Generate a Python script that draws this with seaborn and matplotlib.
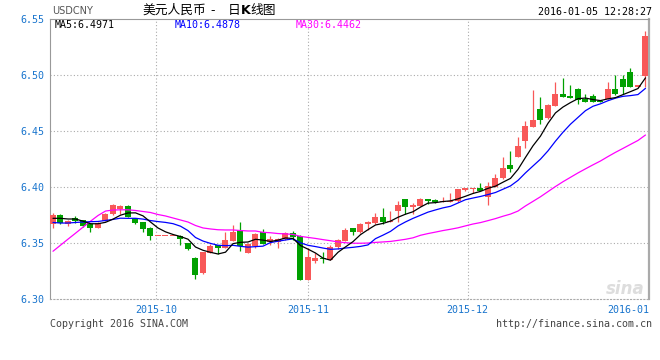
import numpy as np
import pandas as pd
import matplotlib
matplotlib.use("Agg")
import matplotlib.pyplot as plt
import seaborn as sns

# ---- data ----
opens = [6.3670, 6.3753, 6.3668, 6.3723, 6.3708, 6.3670, 6.3639, 6.3702, 6.3759, 6.3804,
         6.3833, 6.3723, 6.3688, 6.3639, 6.3566, 6.3566, 6.3566, 6.3565, 6.3500, 6.3371,
         6.3235, 6.3411, 6.3485, 6.3461, 6.3521, 6.3619, 6.3416, 6.3479, 6.3604, 6.3509,
         6.3514, 6.3538, 6.3595, 6.3565, 6.3175, 6.3345, 6.3371, 6.3351, 6.3467, 6.3523,
         6.3634, 6.3601, 6.3670, 6.3679, 6.3735, 6.3690, 6.3791, 6.3896, 6.3821, 6.3836,
         6.3896, 6.3887, 6.3866, 6.3866, 6.3875, 6.3976, 6.3988, 6.3996, 6.3916, 6.4000,
         6.4083, 6.4199, 6.4273, 6.4416, 6.4541, 6.4699, 6.4616, 6.4729, 6.4833, 6.4818,
         6.4878, 6.4788, 6.4815, 6.4771, 6.4788, 6.4878, 6.4967, 6.5027, 6.4900, 6.4996]
highs = [6.3768, 6.3762, 6.3708, 6.3744, 6.3712, 6.3679, 6.3688, 6.3768, 6.3851, 6.3842,
         6.3842, 6.3729, 6.3693, 6.3646, 6.3566, 6.3566, 6.3566, 6.3570, 6.3503, 6.3378,
         6.3425, 6.3491, 6.3489, 6.3604, 6.3663, 6.3693, 6.3503, 6.3589, 6.3625, 6.3568,
         6.3550, 6.3604, 6.3610, 6.3574, 6.3455, 6.3411, 6.3420, 6.3485, 6.3538, 6.3634,
         6.3637, 6.3679, 6.3702, 6.3773, 6.3815, 6.3791, 6.3880, 6.3900, 6.3863, 6.3907,
         6.3900, 6.3898, 6.3911, 6.3946, 6.3985, 6.3996, 6.3994, 6.4041, 6.4045, 6.4119,
         6.4268, 6.4327, 6.4446, 6.4592, 6.4869, 6.4809, 6.4741, 6.4938, 6.4979, 6.4913,
         6.4889, 6.4833, 6.4830, 6.4779, 6.4938, 6.5003, 6.5003, 6.5063, 6.4902, 6.5398]
lows = [6.3639, 6.3670, 6.3654, 6.3684, 6.3650, 6.3604, 6.3639, 6.3699, 6.3753, 6.3762,
        6.3732, 6.3672, 6.3604, 6.3532, 6.3566, 6.3566, 6.3566, 6.3485, 6.3440, 6.3181,
        6.3226, 6.3411, 6.3402, 6.3461, 6.3521, 6.3431, 6.3413, 6.3461, 6.3491, 6.3485,
        6.3461, 6.3529, 6.3529, 6.3175, 6.3175, 6.3327, 6.3321, 6.3351, 6.3446, 6.3521,
        6.3577, 6.3595, 6.3619, 6.3670, 6.3672, 6.3690, 6.3693, 6.3762, 6.3762, 6.3836,
        6.3851, 6.3857, 6.3866, 6.3866, 6.3866, 6.3971, 6.3952, 6.3967, 6.3842, 6.4000,
        6.4077, 6.4139, 6.4268, 6.4354, 6.4541, 6.4565, 6.4607, 6.4729, 6.4809, 6.4800,
        6.4744, 6.4764, 6.4759, 6.4764, 6.4788, 6.4824, 6.4833, 6.4898, 6.4900, 6.4898]
closes = [6.3753, 6.3679, 6.3699, 6.3699, 6.3657, 6.3639, 6.3679, 6.3762, 6.3842, 6.3833,
          6.3738, 6.3684, 6.3628, 6.3568, 6.3566, 6.3566, 6.3566, 6.3536, 6.3449, 6.3217,
          6.3420, 6.3476, 6.3461, 6.3529, 6.3598, 6.3479, 6.3491, 6.3583, 6.3491, 6.3538,
          6.3538, 6.3589, 6.3559, 6.3175, 6.3378, 6.3366, 6.3360, 6.3467, 6.3527, 6.3619,
          6.3601, 6.3672, 6.3690, 6.3735, 6.3690, 6.3702, 6.3845, 6.3827, 6.3845, 6.3896,
          6.3880, 6.3869, 6.3875, 6.3875, 6.3985, 6.3996, 6.3994, 6.3967, 6.4012, 6.4083,
          6.4172, 6.4163, 6.4369, 6.4547, 6.4601, 6.4605, 6.4735, 6.4833, 6.4809, 6.4800,
          6.4779, 6.4764, 6.4764, 6.4764, 6.4878, 6.4833, 6.4898, 6.4898, 6.4902, 6.5354]

# moving averages at the start of the window (they depend on earlier, unseen days)
ma5_head = [6.3723, 6.3723, 6.3717, 6.3717]
ma10_head = [6.3686, 6.3681, 6.3681, 6.3686, 6.3690, 6.3693, 6.3695, 6.3704, 6.3713]
ma30_head = [6.3429, 6.3483, 6.3537, 6.3590, 6.3644, 6.3697, 6.3748, 6.3788, 6.3797, 6.3799,
             6.3799, 6.3793, 6.3784, 6.3775, 6.3757, 6.3744, 6.3726, 6.3708, 6.3690, 6.3659,
             6.3637, 6.3628, 6.3621, 6.3619, 6.3619, 6.3614, 6.3610, 6.3610, 6.3598]

month_labels = ["2015-10", "2015-11", "2015-12", "2016-01"]
month_pos = [13.8, 34.0, 55.3, 79.47]
y_ticks = [6.30, 6.35, 6.40, 6.45, 6.50, 6.55]
ma_legend = ["MA5:6.4971", "MA10:6.4878", "MA30:6.4462"]

# ---- styling ----
sns.set_style("white")
plt.rcParams["font.family"] = ["DejaVu Sans Mono", "DejaVu Sans"]

RED = "#f85858"
GREEN = "#00a000"
BLUE_TXT = "#1874cd"
GRID = "#aaaaaa"

W, H = 660, 360
fig = plt.figure(figsize=(W / 100, H / 100), dpi=100)
fig.patch.set_facecolor("white")

L, R, T, B = 50, 649, 19.3, 299.3
ax = fig.add_axes([L / W, 1 - B / H, (R - L) / W, (B - T) / H])

df = pd.DataFrame({"x": np.arange(len(closes)), "open": opens, "high": highs,
                   "low": lows, "close": closes})
df["up"] = df["close"] >= df["open"]
df["color"] = np.where(df["up"], RED, GREEN)

ma5 = df["close"].rolling(5).mean()
ma5.iloc[:len(ma5_head)] = ma5_head
ma10 = df["close"].rolling(10).mean()
ma10.iloc[:len(ma10_head)] = ma10_head
ma30 = df["close"].rolling(30).mean()
ma30.iloc[:len(ma30_head)] = ma30_head
df["ma5"], df["ma10"], df["ma30"] = ma5, ma10, ma30

# grid
ax.set_xlim(-0.4, 79.47)
ax.set_ylim(6.30, 6.55)
for y in y_ticks[1:-1]:
    ax.axhline(y, color=GRID, lw=0.8, ls=(0, (1, 2)), zorder=0)
for xp in month_pos[:-1]:
    ax.axvline(xp, color=GRID, lw=0.8, ls=(0, (1, 2)), zorder=0)

# candles
ax.vlines(df["x"], df["low"], df["high"], colors=df["color"], lw=0.9, zorder=2)
body_bottom = np.minimum(df["open"], df["close"])
body_h = np.maximum(np.abs(df["close"] - df["open"]), 0.0009)
ax.bar(df["x"], body_h, bottom=body_bottom, width=0.8, color=df["color"],
       linewidth=0, zorder=3)

# moving averages
sns.lineplot(data=df, x="x", y="ma30", color="#ff00ff", lw=0.9, ax=ax, zorder=4)
sns.lineplot(data=df, x="x", y="ma10", color="#0000ff", lw=0.9, ax=ax, zorder=5)
sns.lineplot(data=df, x="x", y="ma5", color="#000000", lw=0.9, ax=ax, zorder=6)

# spines
for s in ["left", "top"]:
    ax.spines[s].set_color("#999999")
    ax.spines[s].set_linewidth(0.8)
ax.spines["right"].set_color("#aaaaaa")
ax.spines["right"].set_linewidth(1.6)
ax.spines["bottom"].set_color(GRID)
ax.spines["bottom"].set_linewidth(0.8)
ax.spines["bottom"].set_linestyle((0, (1, 2)))

ax.set_xlabel("")
ax.set_ylabel("")
ax.set_yticks(y_ticks)
ax.set_yticklabels([f"{v:.2f}" for v in y_ticks], color=BLUE_TXT, fontsize=7.2)
ax.set_xticks(month_pos)
ax.set_xticklabels(month_labels, color=BLUE_TXT, fontsize=7.2)
ax.get_xticklabels()[-1].set_horizontalalignment("right")
ax.tick_params(axis="both", length=0)
ax.tick_params(axis="y", pad=4)
ax.tick_params(axis="x", pad=4)

# legend row
def px(x, y):
    return x / W, 1 - y / H

leg_x = [55, 175, 296]
leg_c = ["#000000", "#0000ff", "#ff00ff"]
for t, xx, c in zip(ma_legend, leg_x, leg_c):
    fig.text(*px(xx, 25), t, color=c, fontsize=7.2, va="center", ha="left")

# header
CJK = ["Noto Sans CJK SC", "DejaVu Sans"]
fig.text(*px(52, 10.5), "USDCNY", color="#555555", fontsize=7,
         family=["Liberation Sans Narrow", "DejaVu Sans"], va="center", ha="left")
fig.text(*px(142, 10.5), "美元人民币", color="#000000", fontsize=9.2,
         family=CJK, va="center", ha="left")
fig.text(*px(210, 10.5), "-", color="#000000", fontsize=9.2,
         family=CJK, va="center", ha="left")
fig.text(*px(228, 10.5), "日", color="#000000", fontsize=9.2,
         family=CJK, va="center", ha="left")
fig.text(*px(241, 10.5), "K", color="#000000", fontsize=9.2, weight="bold",
         family=["DejaVu Sans"], va="center", ha="left")
fig.text(*px(250, 10.5), "线图", color="#000000", fontsize=9.2,
         family=CJK, va="center", ha="left")
fig.text(*px(652, 12), "2016-01-05 12:28:27", color="#000000", fontsize=7.2,
         va="center", ha="right")

# footer
fig.text(*px(50, 324), "Copyright 2016 SINA.COM", color="#444444", fontsize=7.2,
         va="center", ha="left")
fig.text(*px(652, 324), "http://finance.sina.com.cn", color="#444444", fontsize=7.2,
         va="center", ha="right")

# watermark
fig.text(*px(645, 289), "sina", color="#dddddd", fontsize=12, style="italic",
         weight="bold", family=["DejaVu Sans"], va="center", ha="right", zorder=1)

fig.savefig("out.png", dpi=100, facecolor="white")
